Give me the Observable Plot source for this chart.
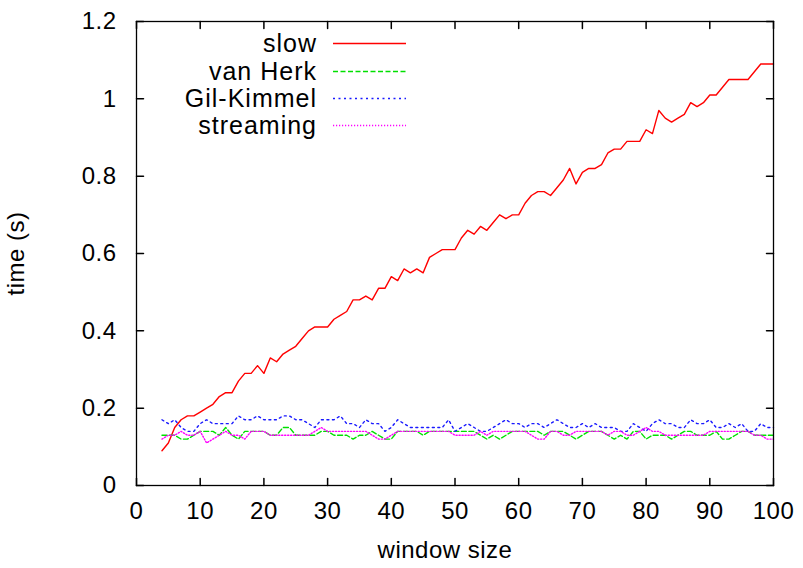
<!DOCTYPE html>
<html>
<head>
<meta charset="utf-8">
<script src="https://cdn.jsdelivr.net/npm/d3@7"></script>
<script src="https://cdn.jsdelivr.net/npm/@observablehq/plot@0.6"></script>
<style>
  html, body { margin: 0; padding: 0; background: #fff; }
  #wrap { position: relative; width: 803px; height: 568px; font-family: "Liberation Sans", Arial, sans-serif; }
  #wrap svg text { letter-spacing: 0.5px; }
  #legend { position: absolute; left: 0; top: 0; pointer-events: none; }
  .row { position: absolute; left: 0; width: 410px; height: 28px; }
  .row span { position: absolute; right: 93px; top: 0; font-size: 25px; letter-spacing: 1px; line-height: 28px; color: #000; white-space: nowrap; }
  .row svg { position: absolute; left: 333px; top: 0; }
</style>
</head>
<body>
<div id="wrap"><div id="legend"></div></div>
<script>
// window sizes 4..100
const windowSizes = d3.range(4, 101);

const slow = [
  0.09, 0.11, 0.15, 0.17, 0.18, 0.18, 0.19, 0.20, 0.21, 0.23,
  0.24, 0.24, 0.27, 0.29, 0.29, 0.31, 0.29, 0.33, 0.32, 0.34,
  0.35, 0.36, 0.38, 0.40, 0.41, 0.41, 0.41, 0.43, 0.44, 0.45,
  0.48, 0.48, 0.49, 0.48, 0.51, 0.51, 0.54, 0.53, 0.56, 0.55,
  0.56, 0.55, 0.59, 0.60, 0.61, 0.61, 0.61, 0.64, 0.66, 0.65,
  0.67, 0.66, 0.68, 0.70, 0.69, 0.70, 0.70, 0.73, 0.75, 0.76,
  0.76, 0.75, 0.77, 0.79, 0.82, 0.78, 0.81, 0.82, 0.82, 0.83,
  0.86, 0.87, 0.87, 0.89, 0.89, 0.89, 0.92, 0.91, 0.97, 0.95,
  0.94, 0.95, 0.96, 0.99, 0.98, 0.99, 1.01, 1.01, 1.03, 1.05,
  1.05, 1.05, 1.05, 1.07, 1.09, 1.09, 1.09
];

const vanHerk = [
  0.13, 0.13, 0.13, 0.12, 0.12, 0.13, 0.14, 0.14, 0.14, 0.13,
  0.15, 0.13, 0.12, 0.14, 0.14, 0.14, 0.14, 0.13, 0.13, 0.15,
  0.15, 0.13, 0.13, 0.13, 0.13, 0.14, 0.14, 0.13, 0.13, 0.13,
  0.12, 0.13, 0.13, 0.14, 0.13, 0.12, 0.12, 0.14, 0.14, 0.14,
  0.14, 0.13, 0.14, 0.14, 0.14, 0.14, 0.14, 0.14, 0.14, 0.14,
  0.13, 0.12, 0.13, 0.12, 0.13, 0.14, 0.14, 0.14, 0.14, 0.14,
  0.13, 0.14, 0.14, 0.14, 0.13, 0.12, 0.13, 0.14, 0.14, 0.14,
  0.13, 0.12, 0.13, 0.12, 0.14, 0.14, 0.12, 0.13, 0.13, 0.13,
  0.12, 0.13, 0.14, 0.14, 0.13, 0.13, 0.13, 0.14, 0.12, 0.12,
  0.13, 0.14, 0.14, 0.13, 0.13, 0.13, 0.13
];

const gilKimmel = [
  0.17, 0.16, 0.17, 0.15, 0.14, 0.14, 0.16, 0.17, 0.16, 0.16,
  0.16, 0.16, 0.18, 0.17, 0.17, 0.18, 0.17, 0.17, 0.17, 0.18,
  0.18, 0.17, 0.17, 0.16, 0.15, 0.17, 0.17, 0.17, 0.18, 0.16,
  0.16, 0.15, 0.17, 0.16, 0.16, 0.14, 0.15, 0.17, 0.16, 0.15,
  0.15, 0.15, 0.15, 0.15, 0.15, 0.17, 0.14, 0.15, 0.16, 0.15,
  0.14, 0.14, 0.15, 0.16, 0.17, 0.16, 0.16, 0.15, 0.16, 0.16,
  0.15, 0.16, 0.17, 0.16, 0.15, 0.15, 0.16, 0.15, 0.16, 0.15,
  0.15, 0.15, 0.14, 0.14, 0.16, 0.15, 0.14, 0.16, 0.17, 0.16,
  0.16, 0.15, 0.15, 0.17, 0.16, 0.16, 0.17, 0.15, 0.15, 0.16,
  0.15, 0.16, 0.14, 0.14, 0.16, 0.15, 0.15
];

const streaming = [
  0.12, 0.13, 0.13, 0.14, 0.13, 0.13, 0.14, 0.11, 0.12, 0.13,
  0.14, 0.13, 0.13, 0.12, 0.14, 0.14, 0.14, 0.13, 0.13, 0.13,
  0.13, 0.13, 0.13, 0.13, 0.14, 0.15, 0.14, 0.14, 0.14, 0.14,
  0.14, 0.14, 0.14, 0.13, 0.12, 0.12, 0.13, 0.14, 0.14, 0.14,
  0.14, 0.14, 0.14, 0.14, 0.14, 0.14, 0.13, 0.13, 0.13, 0.13,
  0.14, 0.13, 0.14, 0.14, 0.14, 0.14, 0.14, 0.14, 0.13, 0.12,
  0.12, 0.14, 0.14, 0.13, 0.13, 0.14, 0.14, 0.14, 0.14, 0.14,
  0.13, 0.14, 0.14, 0.13, 0.13, 0.14, 0.15, 0.14, 0.14, 0.13,
  0.13, 0.13, 0.13, 0.13, 0.13, 0.13, 0.14, 0.14, 0.14, 0.14,
  0.14, 0.14, 0.14, 0.13, 0.13, 0.12, 0.12
];

const seriesNames = ["slow", "van Herk", "Gil-Kimmel", "streaming"];
const seriesValues = [slow, vanHerk, gilKimmel, streaming];
const seriesColors = ["#ff0000", "#00e000", "#1a1aff", "#ff00ff"];
const seriesDash = [null, "5,2.5", "2,3.5", "1.2,1.8"];

const xTicks = [0, 10, 20, 30, 40, 50, 60, 70, 80, 90, 100];
const yTicks = [0, 0.2, 0.4, 0.6, 0.8, 1, 1.2];
const xLabel = "window size";
const yLabel = "time (s)";

const tickShape = { draw(ctx, l) { ctx.moveTo(0, 0); ctx.lineTo(0, -l); } };

const lineMarks = seriesNames.map((name, i) =>
  Plot.line(windowSizes.map((w, j) => ({ w, v: seriesValues[i][j] })), {
    x: "w", y: "v",
    stroke: seriesColors[i],
    strokeWidth: 1.4,
    strokeDasharray: seriesDash[i]
  })
);

const plot = Plot.plot({
  width: 803,
  height: 568,
  marginLeft: 136,
  marginRight: 30,
  marginTop: 21,
  marginBottom: 83,
  style: { fontFamily: "'Liberation Sans', Arial, sans-serif", fontSize: "24px", color: "#000", background: "#fff" },
  x: { domain: [0, 100] },
  y: { domain: [0, 1.2] },
  marks: [
    Plot.axisX({ ticks: xTicks, tickSize: 0, tickPadding: 16, tickFormat: d => String(d), label: null, fontSize: 24 }),
    Plot.text([xLabel], { frameAnchor: "bottom", dy: 72, dx: -10, fontSize: 24, fill: "#000" }),
    Plot.axisY({ ticks: yTicks, tickSize: 0, tickPadding: 20, tickFormat: d => String(d),
      label: yLabel, labelAnchor: "center", labelArrow: "none", labelOffset: 130, fontSize: 24 }),
    // inward tick marks on all four sides
    Plot.vector(xTicks, { x: d => d, frameAnchor: "bottom", anchor: "start", length: 7, rotate: 0, shape: tickShape, stroke: "#000" }),
    Plot.vector(xTicks, { x: d => d, frameAnchor: "top", anchor: "start", length: 7, rotate: 180, shape: tickShape, stroke: "#000" }),
    Plot.vector(yTicks, { y: d => d, frameAnchor: "left", anchor: "start", length: 7, rotate: 90, shape: tickShape, stroke: "#000" }),
    Plot.vector(yTicks, { y: d => d, frameAnchor: "right", anchor: "start", length: 7, rotate: 270, shape: tickShape, stroke: "#000" }),
    ...lineMarks,
    Plot.frame({ stroke: "#000", strokeWidth: 1.3 })
  ]
});

const wrap = document.getElementById("wrap");
wrap.insertBefore(plot, wrap.firstChild);

// legend (inside plot area, top-left, gnuplot style)
const legend = document.getElementById("legend");
const rowTops = [29, 57, 84, 111];
seriesNames.forEach((name, i) => {
  const row = document.createElement("div");
  row.className = "row";
  row.style.top = rowTops[i] + "px";
  const span = document.createElement("span");
  span.textContent = name;
  row.appendChild(span);
  const svg = d3.create("svg").attr("width", 74).attr("height", 28);
  svg.append("line").attr("x1", 0).attr("x2", 73).attr("y1", 14.5).attr("y2", 14.5)
    .attr("stroke", seriesColors[i]).attr("stroke-width", 1.5)
    .attr("stroke-dasharray", seriesDash[i]);
  row.appendChild(svg.node());
  legend.appendChild(row);
});
</script>
</body>
</html>
